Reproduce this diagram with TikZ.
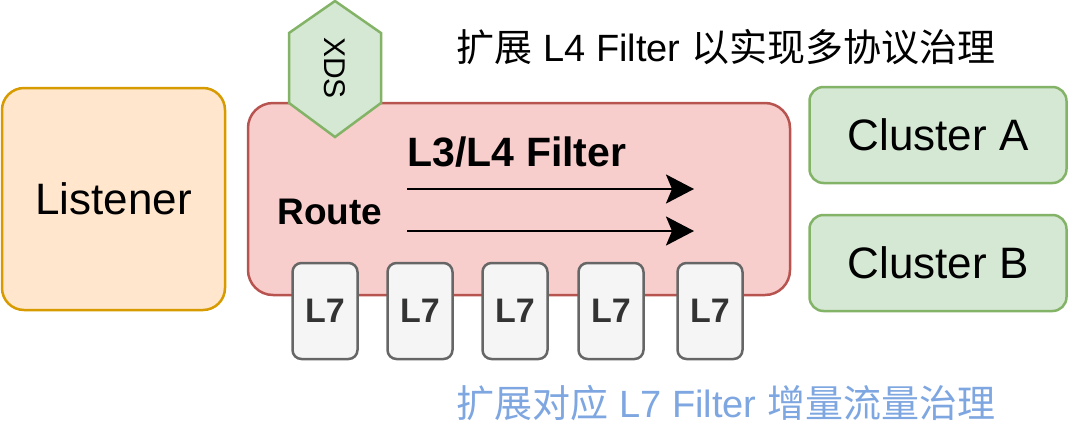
\documentclass[tikz,border=0pt]{standalone}
\usepackage{fontspec}
\setmainfont{Liberation Sans}
\newfontfamily\cjk{Noto Sans CJK SC}
\usetikzlibrary{arrows.meta}
\definecolor{lisfill}{HTML}{FFE6CC}
\definecolor{lisline}{HTML}{D79B00}
\definecolor{redfill}{HTML}{F8CECC}
\definecolor{redline}{HTML}{B85450}
\definecolor{grnfill}{HTML}{D5E8D4}
\definecolor{grnline}{HTML}{82B366}
\definecolor{grayfill}{HTML}{F5F5F5}
\definecolor{grayline}{HTML}{666666}
\definecolor{graytext}{HTML}{333333}
\definecolor{bluetext}{HTML}{7EA6E0}
\def\fs#1{\fontsize{#1}{#1}\selectfont}

\begin{document}
\begin{tikzpicture}[x=1pt, y=-1pt,
	box/.style={draw, line width=2.5pt, rounded corners=#1, inner sep=0pt},
	lsev/.style={box=9pt, fill=grayfill, draw=grayline, text=graytext, minimum width=65pt, minimum height=96pt, font=\fs{34}\bfseries},
	flow/.style={line width=2.5pt, -{Stealth[length=28pt, width=29pt, inset=6pt]}}]
	\useasboundingbox (0, 0) rectangle (1080, 424);
	%%%%% START %%%%%
	\node[box=22pt, fill=lisfill, draw=lisline, minimum width=223pt, minimum height=222pt] (listener) at (113.5, 199) {\fs{44}Listener};
	
	\node[box=25pt, fill=redfill, draw=redline, minimum width=542pt, minimum height=192pt] (chain) at (519, 199) {};
	
	\node[box=14pt, fill=grnfill, draw=grnline, minimum width=257pt, minimum height=96pt] (clua) at (938, 135) {\fs{44}Cluster A};
	\node[box=14pt, fill=grnfill, draw=grnline, minimum width=257pt, minimum height=96pt] (club) at (938, 263) {\fs{44}Cluster B};
	
	\draw[fill=grnfill, draw=grnline, line width=2.5pt] (335, 1) -- (381, 33) -- (381, 103) -- (335, 137) -- (289, 103) -- (289, 33) -- cycle;
	\node[rotate=-90] (xds) at (335, 68) {\fs{30}XDS};
	
	\node (l34) at (517, 152) {\fs{41}\bfseries L3/L4 Filter};
	\node (route) at (330, 212) {\fs{37}\bfseries Route};
	
	\coordinate (f1a) at (407, 189);
	\coordinate (f1b) at (694, 189);
	\coordinate (f2a) at (407, 231);
	\coordinate (f2b) at (694, 231);
	\draw[flow] (f1a) -- (f1b);
	\draw[flow] (f2a) -- (f2b);
	
	\node[lsev] (l7a) at (325, 311) {L7};
	\node[lsev] (l7b) at (420, 311) {L7};
	\node[lsev] (l7c) at (515, 311) {L7};
	\node[lsev] (l7d) at (611, 311) {L7};
	\node[lsev] (l7e) at (710, 311) {L7};
	
	\node[inner sep=0pt] (l4note) at (726, 47) {\fs{38}{\cjk 扩展} L4 Filter {\cjk 以实现多协议治理}};
	\node[inner sep=0pt, text=bluetext] (l7note) at (726, 403) {\fs{38}{\cjk 扩展对应} L7 Filter {\cjk 增量流量治理}};
	%%%%% END %%%%%
\end{tikzpicture}
\end{document}
